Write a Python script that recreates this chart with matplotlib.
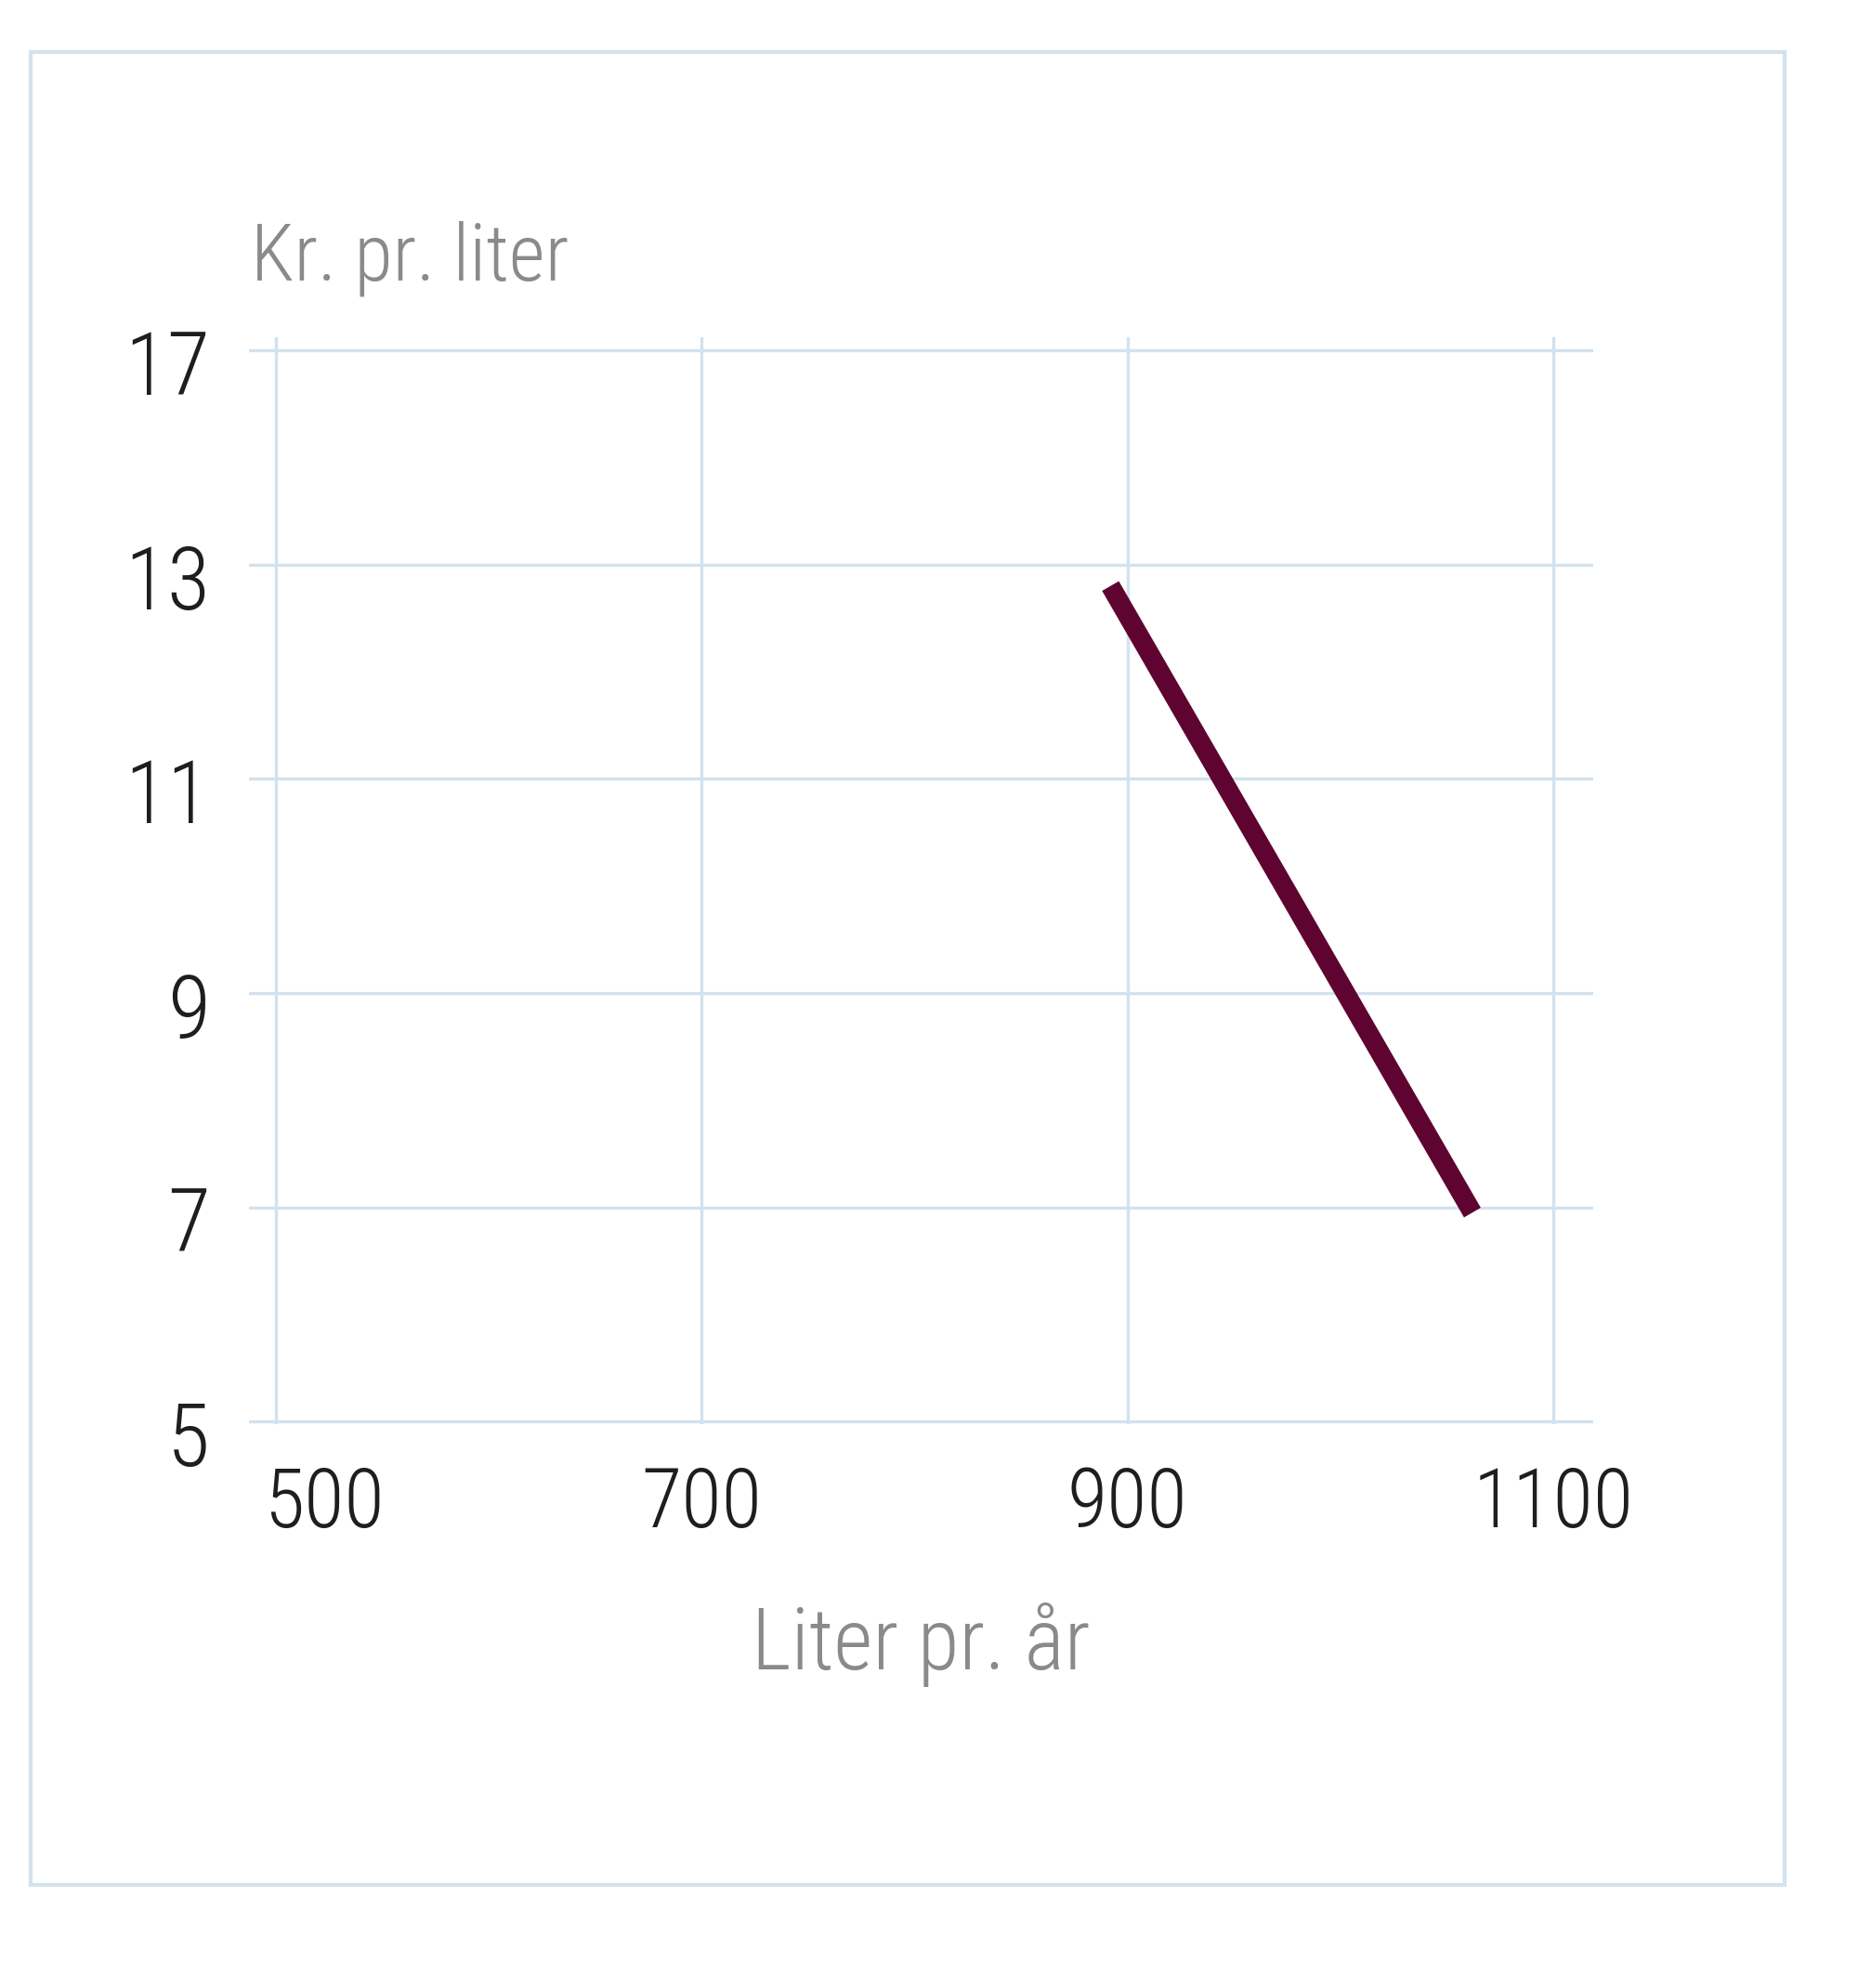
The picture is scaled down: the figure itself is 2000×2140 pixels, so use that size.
import numpy as np
import matplotlib
matplotlib.use("Agg")
import matplotlib.pyplot as plt
from matplotlib.patches import Rectangle
from matplotlib.transforms import offset_copy

# data
x_ticks = [500, 700, 900, 1100]
y_ticks = [5, 7, 9, 11, 13, 17]  # evenly spaced on the chart, not linear
liter_pr_aar = [892, 1062]
kr_pr_liter = [12.8, 6.95]

x_label = "Liter pr. år"
y_label = "Kr. pr. liter"

GRID_COLOR = "#d2e2ee"
LINE_COLOR = "#5f0330"
TICK_COLOR = "#1e1e1e"
LABEL_COLOR = "#8a8a8a"

plt.rcParams["font.family"] = ["Roboto Condensed", "Open Sans", "DejaVu Sans"]
plt.rcParams["font.stretch"] = "condensed"
plt.rcParams["font.weight"] = "light"

idx = np.arange(len(y_ticks), dtype=float)


def y_forward(v):
    """Map values onto the evenly spaced tick positions (piecewise linear)."""
    v = np.asarray(v, dtype=float)
    out = np.interp(v, y_ticks, idx)
    out = np.where(v > y_ticks[-1], idx[-1] + (v - y_ticks[-1]) / (y_ticks[-1] - y_ticks[-2]), out)
    out = np.where(v < y_ticks[0], (v - y_ticks[0]) / (y_ticks[1] - y_ticks[0]), out)
    return out


def y_inverse(i):
    i = np.asarray(i, dtype=float)
    out = np.interp(i, idx, y_ticks)
    out = np.where(i > idx[-1], y_ticks[-1] + (i - idx[-1]) * (y_ticks[-1] - y_ticks[-2]), out)
    out = np.where(i < 0, y_ticks[0] + i * (y_ticks[1] - y_ticks[0]), out)
    return out


fig = plt.figure(figsize=(20, 21.4), dpi=100)
fig.patch.set_facecolor("white")

# outer frame
fig.add_artist(Rectangle((0.0165, 0.0519), 0.944, 0.922, transform=fig.transFigure,
                         fill=False, edgecolor=GRID_COLOR, linewidth=3.0))

ax = fig.add_axes([0.134, 0.2836, 0.7235, 0.5467])
ax.set_yscale("function", functions=(y_forward, y_inverse))
ax.set_xlim(487.35, 1118.76)
ax.set_ylim(4.974, 17.243)

ax.set_xticks(x_ticks)
ax.set_yticks(y_ticks)
ax.tick_params(length=0, labelbottom=False, labelleft=False)
ax.grid(True, color=GRID_COLOR, linewidth=2.4)
ax.set_axisbelow(True)
for s in ax.spines.values():
    s.set_visible(False)

ax.plot(liter_pr_aar, kr_pr_liter, color=LINE_COLOR, linewidth=15,
        solid_capstyle="butt", zorder=3)

# tick labels drawn as texts so they can sit where the reference puts them
ytr = offset_copy(ax.get_yaxis_transform(), fig=fig, x=-42, y=-48, units="dots")
for v in y_ticks:
    ax.text(0, v, str(v), transform=ytr, ha="right", va="baseline",
            fontsize=68, color=TICK_COLOR, clip_on=False)

for v in x_ticks:
    dx = 52 if v == x_ticks[0] else 0
    xtr = offset_copy(ax.get_xaxis_transform(), fig=fig, x=dx, y=-111, units="dots")
    ax.text(v, 0, str(v), transform=xtr, ha="center", va="baseline",
            fontsize=64, color=TICK_COLOR, clip_on=False)

fig.text(0.135, 0.8589, y_label, ha="left", va="baseline", fontsize=61, color=LABEL_COLOR)
fig.text(0.4955, 0.1603, x_label, ha="center", va="baseline", fontsize=66, color=LABEL_COLOR)

fig.savefig("out.png", dpi=100, facecolor="white")
